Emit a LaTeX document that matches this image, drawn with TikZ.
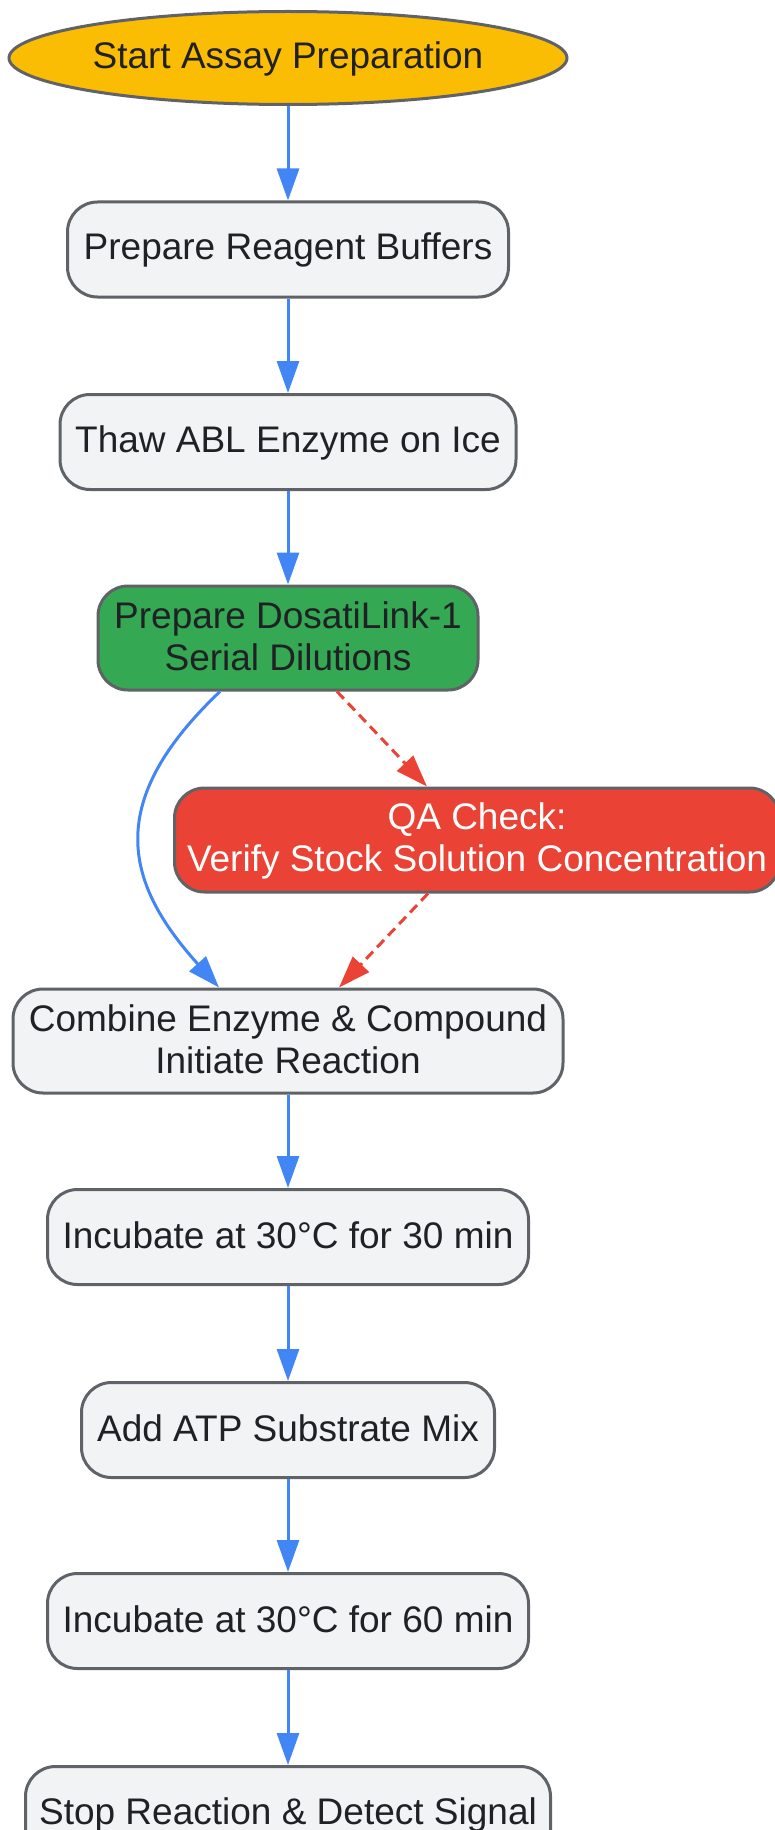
\documentclass[tikz,border=0pt]{standalone}
\usepackage{fontspec}
\setmainfont{Liberation Sans}
\usetikzlibrary{arrows.meta,shapes.geometric}
\definecolor{cyellow}{HTML}{FBBC04}
\definecolor{cbox}{HTML}{F1F3F4}
\definecolor{cgrey}{HTML}{5F6368}
\definecolor{cgreen}{HTML}{34A853}
\definecolor{cred}{HTML}{EA4335}
\definecolor{cblue}{HTML}{4285F4}
\definecolor{ctext}{HTML}{202124}
\newcommand\mystrut{\rule[-6pt]{0pt}{34pt}}
\tikzset{
  box/.style={draw=cgrey, line width=3pt, rounded corners=30pt, fill=cbox, text=ctext,
    minimum height=95pt, inner sep=0pt, align=center, font=\fontsize{37}{42}\selectfont},
  startnode/.style={ellipse, draw=cgrey, line width=3pt, fill=cyellow, text=ctext,
    minimum width=558pt, minimum height=93pt, inner sep=0pt, font=\fontsize{37}{42}\selectfont},
  blueedge/.style={draw=cblue, line width=3pt, -{Triangle[length=32pt,width=22pt]}},
  rededge/.style={draw=cred, line width=3pt, dash pattern=on 10pt off 6pt,
    -{Triangle[length=32pt,width=22pt]}}
}
\begin{document}
\begin{tikzpicture}[x=1pt,y=-1pt]
\useasboundingbox (0,0) rectangle (775,1830);
\node[startnode] (start) at (288,58) {\mystrut Start Assay Preparation};
\node[box, minimum width=441pt] (prep) at (288,249.5) {\mystrut Prepare Reagent Buffers};
\node[box, minimum width=456pt] (thaw) at (288,442) {\mystrut Thaw ABL Enzyme on Ice};
\node[box, minimum width=380pt, minimum height=104pt, fill=cgreen] (green) at (288,638) {\mystrut Prepare DosatiLink-1\\\mystrut Serial Dilutions};
\node[box, minimum width=605pt, minimum height=104pt, fill=cred, text=white] (qa) at (477,840) {\mystrut QA Check:\\\mystrut Verify Stock Solution Concentration};
\node[box, minimum width=550pt, minimum height=104pt] (combine) at (288,1041) {\mystrut Combine Enzyme \& Compound\\\mystrut Initiate Reaction};
\node[box, minimum width=481pt] (inc30) at (288,1237) {\mystrut Incubate at 30°C for 30 min};
\node[box, minimum width=413pt] (atp) at (288,1430) {\mystrut Add ATP Substrate Mix};
\node[box, minimum width=481pt] (inc60) at (288,1621) {\mystrut Incubate at 30°C for 60 min};
\node[box, minimum width=525pt] (stop) at (288,1814) {\mystrut Stop Reaction \& Detect Signal};

\draw[blueedge] (start.south) -- (prep.north);
\draw[blueedge] (prep.south) -- (thaw.north);
\draw[blueedge] (thaw.south) -- (green.north);
\draw[blueedge] ([xshift=-68pt]green.south) .. controls (106,800) and (122,880) .. ([xshift=-69pt]combine.north);
\draw[rededge] ([xshift=49pt]green.south) -- ([xshift=-50pt]qa.north);
\draw[rededge] ([xshift=-49pt]qa.south) -- ([xshift=51pt]combine.north);
\draw[blueedge] (combine.south) -- (inc30.north);
\draw[blueedge] (inc30.south) -- (atp.north);
\draw[blueedge] (atp.south) -- (inc60.north);
\draw[blueedge] (inc60.south) -- (stop.north);
\end{tikzpicture}
\end{document}
